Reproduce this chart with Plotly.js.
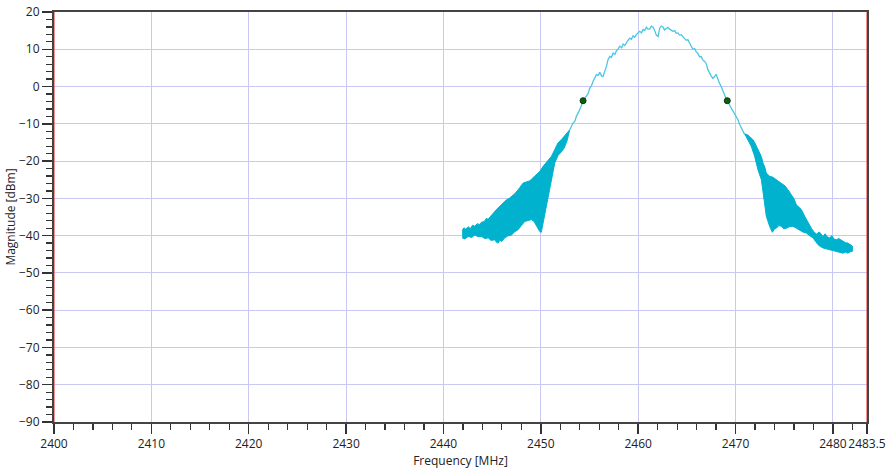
<!DOCTYPE html>
<html>
<head>
<meta charset="utf-8">
<script src="https://cdn.plot.ly/plotly-3.0.1.min.js"></script>
<style>html,body{margin:0;padding:0;background:#fff;}#chart{width:888px;height:473px;}</style>
</head>
<body>
<div id="chart"></div>
<script>
// Left dense band (upper / lower envelope), MHz / dBm
const leftUpperF = [2441.92,2442.10,2442.30,2442.54,2442.75,2443.00,2443.22,2443.45,2443.70,2443.91,2444.20,2444.40,2444.59,2444.90,2445.10,2445.27,2445.60,2445.96,2446.20,2446.47,2446.75,2446.99,2447.30,2447.67,2447.90,2448.18,2448.50,2448.87,2449.10,2449.38,2449.60,2449.89,2450.24,2450.50,2450.75,2451.09,2451.43,2451.77,2452.12,2452.40,2452.70,2452.97];
const leftUpperDb = [-38.6,-37.9,-38.3,-37.6,-38.1,-37.2,-37.5,-36.8,-37.0,-36.4,-36.2,-35.4,-35.6,-34.5,-34.0,-33.5,-32.6,-31.7,-31.2,-30.4,-30.0,-29.5,-28.8,-27.7,-26.8,-25.9,-25.6,-25.3,-24.7,-24.0,-23.5,-22.8,-21.4,-20.6,-20.0,-18.7,-16.9,-15.1,-14.2,-13.3,-12.4,-11.6];
const leftLowerF = [2441.92,2442.20,2442.54,2442.90,2443.22,2443.55,2443.91,2444.25,2444.59,2444.90,2445.27,2445.45,2445.62,2445.80,2445.96,2446.30,2446.60,2446.99,2447.30,2447.67,2448.00,2448.35,2448.70,2449.04,2449.30,2449.55,2449.89,2450.05,2450.13,2450.41,2450.75,2451.09,2451.43,2451.77,2452.12,2452.40,2452.70,2452.97];
const leftLowerDb = [-40.6,-40.9,-40.2,-40.5,-39.8,-40.3,-40.2,-40.8,-40.6,-41.3,-41.1,-41.8,-42.0,-41.2,-41.6,-40.6,-40.1,-39.8,-39.0,-38.4,-37.3,-36.2,-36.0,-35.7,-36.2,-37.1,-38.9,-39.1,-37.5,-33.9,-29.5,-25.0,-20.5,-18.5,-17.5,-16.5,-14.5,-11.6];

// Main lobe (single trace)
const mainF = [2452.97,2453.31,2453.50,2453.65,2453.85,2454.00,2454.15,2454.34,2454.55,2454.69,2454.85,2455.03,2455.20,2455.37,2455.55,2455.71,2455.90,2456.05,2456.25,2456.39,2456.55,2456.74,2456.90,2457.08,2457.25,2457.42,2457.60,2457.76,2457.95,2458.11,2458.30,2458.45,2458.62,2458.79,2458.95,2459.13,2459.30,2459.47,2459.65,2459.82,2460.00,2460.16,2460.33,2460.50,2460.67,2460.84,2461.00,2461.18,2461.35,2461.52,2461.70,2461.86,2462.05,2462.20,2462.37,2462.54,2462.70,2462.88,2463.05,2463.22,2463.40,2463.57,2463.75,2463.91,2464.08,2464.25,2464.42,2464.59,2464.76,2464.93,2465.10,2465.27,2465.45,2465.61,2465.80,2465.96,2466.13,2466.30,2466.47,2466.64,2466.80,2466.98,2467.15,2467.32,2467.50,2467.66,2467.83,2468.00,2468.17,2468.35,2468.52,2468.69,2468.90,2469.10,2469.30,2469.56,2469.80,2470.08,2470.25,2470.42,2470.60,2470.76,2470.94];
const mainDb = [-11.6,-9.8,-9.3,-8.0,-7.0,-5.8,-5.2,-3.8,-3.0,-2.2,-1.9,-0.4,0.2,1.4,2.3,3.2,3.0,3.8,2.8,2.7,4.0,5.4,7.2,8.1,7.8,9.0,8.6,9.6,10.1,10.8,10.4,11.4,11.0,11.9,12.4,13.0,12.7,13.6,13.2,14.0,14.5,14.8,14.4,15.3,15.0,15.9,15.4,15.4,16.2,16.0,15.0,13.8,13.4,15.6,16.2,16.0,15.2,15.5,15.9,15.4,15.0,14.8,15.0,14.3,14.4,13.8,13.9,13.3,12.9,12.4,12.6,11.6,10.9,10.0,10.2,9.3,8.9,8.0,8.0,7.1,6.8,6.2,4.6,3.5,2.8,2.2,2.6,3.3,2.0,0.9,0.0,-1.3,-2.4,-3.8,-4.5,-5.8,-7.0,-8.0,-8.9,-10.2,-11.2,-12.3,-12.9];

// Right dense band (upper / lower envelope)
const rightUpperF = [2470.94,2471.20,2471.45,2471.62,2471.79,2471.96,2472.14,2472.30,2472.48,2472.65,2472.82,2473.00,2473.16,2473.50,2473.80,2474.19,2474.50,2474.87,2475.10,2475.38,2475.73,2476.00,2476.24,2476.50,2476.76,2477.10,2477.44,2477.78,2478.00,2478.30,2478.60,2478.98,2479.20,2479.40,2479.66,2479.90,2480.10,2480.35,2480.60,2481.03,2481.30,2481.54,2481.72,2482.00];
const rightUpperDb = [-12.7,-12.9,-13.4,-13.8,-14.3,-15.0,-16.1,-16.6,-17.8,-18.8,-20.5,-21.6,-23.2,-24.1,-24.3,-25.0,-25.4,-26.3,-26.7,-27.7,-29.0,-30.1,-31.7,-32.4,-33.0,-34.8,-36.6,-38.0,-38.8,-39.6,-39.0,-40.2,-39.5,-40.3,-40.6,-40.0,-40.9,-41.1,-40.8,-41.5,-41.9,-42.0,-42.4,-42.8];
const rightLowerF = [2470.94,2471.28,2471.62,2471.96,2472.30,2472.65,2472.82,2472.99,2473.16,2473.50,2473.78,2474.00,2474.19,2474.45,2474.70,2474.95,2475.22,2475.55,2475.90,2476.24,2476.58,2476.90,2477.27,2477.60,2477.95,2478.20,2478.46,2478.70,2478.98,2479.30,2479.66,2480.00,2480.35,2480.70,2481.03,2481.30,2481.54,2481.80,2482.00];
const rightLowerDb = [-12.7,-14.3,-16.1,-18.7,-22.3,-25.0,-27.7,-31.2,-34.8,-37.5,-39.1,-38.2,-38.0,-37.3,-37.5,-38.2,-38.0,-37.6,-37.5,-38.0,-38.4,-39.0,-39.3,-40.0,-40.6,-41.5,-42.4,-42.9,-43.3,-43.5,-43.8,-43.9,-44.2,-44.5,-44.7,-44.4,-44.7,-44.3,-44.2];

// Markers
const markerF = [2454.34, 2469.15];
const markerDb = [-3.8, -3.8];

// Axis ticks
const xTicks = [2400,2410,2420,2430,2440,2450,2460,2470,2480,2483.5];
const xTickText = ['2400','2410','2420','2430','2440','2450','2460','2470','2480','2483.5'];
const yTicks = [20,10,0,-10,-20,-30,-40,-50,-60,-70,-80,-90];

const bandColor = '#00b2ce';
const lineColor = '#4cc6e2';

function band(uf, ud, lf, ld) {
  return {
    x: uf.concat(lf.slice().reverse()),
    y: ud.concat(ld.slice().reverse()),
    type: 'scatter', mode: 'lines', fill: 'toself',
    fillcolor: bandColor, line: {color: bandColor, width: 1},
    hoverinfo: 'skip'
  };
}

const traces = [
  band(leftUpperF, leftUpperDb, leftLowerF, leftLowerDb),
  band(rightUpperF, rightUpperDb, rightLowerF, rightLowerDb),
  {x: mainF, y: mainDb, type: 'scatter', mode: 'lines', line: {color: lineColor, width: 1.3}, hoverinfo: 'skip'},
  {x: markerF, y: markerDb, type: 'scatter', mode: 'markers',
   marker: {color: '#0b5e12', size: 6, line: {color: '#063a08', width: 1}}, hoverinfo: 'skip'}
];

const fontFam = '"Open Sans", "Noto Sans", sans-serif';
const layout = {
  width: 888, height: 473,
  margin: {l: 54, r: 21, t: 12, b: 51},
  paper_bgcolor: '#fff', plot_bgcolor: '#fff',
  showlegend: false, hovermode: false,
  font: {family: fontFam, size: 12, color: '#222'},
  xaxis: {
    range: [2400, 2483.5], tickmode: 'array', tickvals: xTicks, ticktext: xTickText,
    tickangle: 0,
    ticks: 'outside', ticklen: 10, tickwidth: 1.5, tickcolor: '#333',
    showline: true, linecolor: '#444', linewidth: 2, mirror: true,
    showgrid: true, gridcolor: '#c8c8f2', gridwidth: 1, zeroline: false,
    minor: {tickmode: 'linear', tick0: 2400, dtick: 2, ticks: 'outside', ticklen: 6, tickwidth: 1.2, tickcolor: '#333', showgrid: false},
    tickfont: {size: 12, color: '#222'},
    title: {text: 'Frequency [MHz]', font: {size: 12, color: '#222'}, standoff: 2}
  },
  yaxis: {
    range: [-90, 20], tickmode: 'array', tickvals: yTicks,
    ticks: 'outside', ticklen: 10, tickwidth: 1.5, tickcolor: '#333',
    showline: true, linecolor: '#444', linewidth: 2, mirror: true,
    showgrid: true, gridcolor: '#c8c8f2', gridwidth: 1, zeroline: false,
    minor: {tickmode: 'linear', tick0: -90, dtick: 2, ticks: 'outside', ticklen: 6, tickwidth: 1.2, tickcolor: '#333', showgrid: false},
    tickfont: {size: 12, color: '#222'},
    title: {text: 'Magnitude [dBm]', font: {size: 12, color: '#222'}, standoff: 0}
  },
  shapes: [
    {type: 'line', xref: 'x', yref: 'paper', x0: 2400, x1: 2400, y0: 0, y1: 1, line: {color: '#e85050', width: 1.2}},
    {type: 'line', xref: 'x', yref: 'paper', x0: 2483.5, x1: 2483.5, y0: 0, y1: 1, line: {color: '#e85050', width: 1.2}}
  ]
};

Plotly.newPlot('chart', traces, layout, {staticPlot: true, displayModeBar: false});
</script>
</body>
</html>
